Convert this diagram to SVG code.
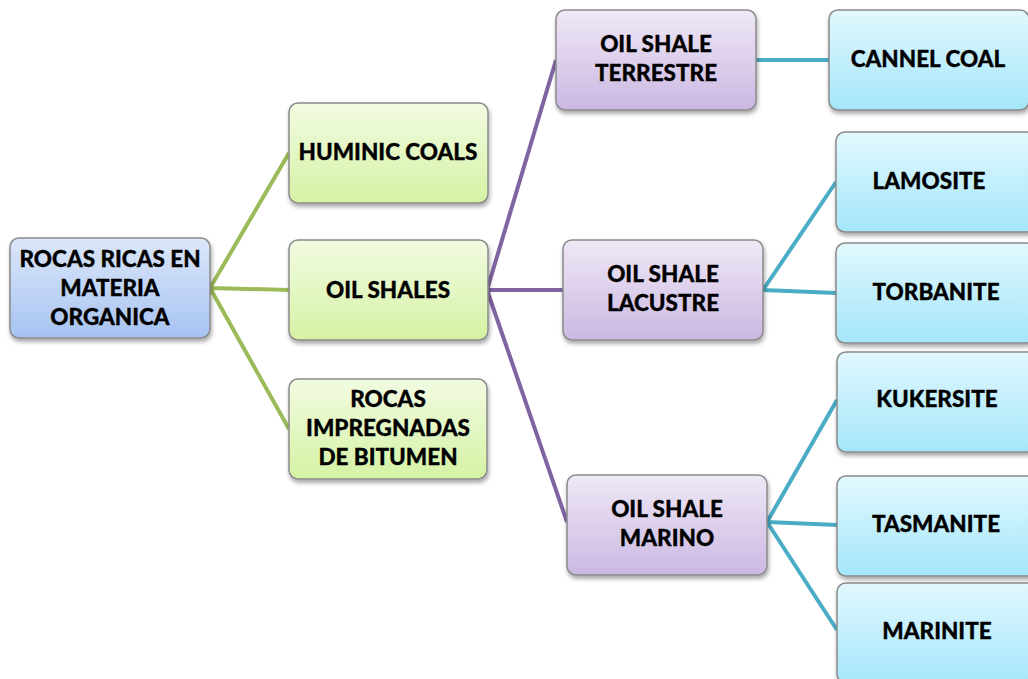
<svg xmlns="http://www.w3.org/2000/svg" width="1028" height="679" viewBox="0 0 1028 679">
<defs>
<linearGradient id="gBlue" x1="0" y1="0" x2="0" y2="1"><stop offset="0" stop-color="#dce7f9"/><stop offset="1" stop-color="#a7c3f2"/></linearGradient>
<linearGradient id="gGreen" x1="0" y1="0" x2="0" y2="1"><stop offset="0" stop-color="#f2fbe2"/><stop offset="1" stop-color="#d5f2a4"/></linearGradient>
<linearGradient id="gPurple" x1="0" y1="0" x2="0" y2="1"><stop offset="0" stop-color="#efe8f6"/><stop offset="1" stop-color="#cbb8e2"/></linearGradient>
<linearGradient id="gCyan" x1="0" y1="0" x2="0" y2="1"><stop offset="0" stop-color="#e2f8fe"/><stop offset="1" stop-color="#a4e6fa"/></linearGradient>
<filter id="sh" x="-10%" y="-10%" width="125%" height="130%"><feDropShadow dx="1" dy="3" stdDeviation="2" flood-color="#000" flood-opacity="0.35"/></filter>
</defs>
<style>
.n rect{stroke:#8a8a8a;stroke-width:1.5;filter:url(#sh)}
.n text{font-family:Lato,"Open Sans","Liberation Sans",sans-serif;font-weight:900;font-size:22.5px;fill:#000;stroke:#000;stroke-width:0.3;text-anchor:middle}
.g{stroke:#9bbb59;stroke-width:4;fill:none}
.p{stroke:#8064a2;stroke-width:4;fill:none}
.c{stroke:#4bacc6;stroke-width:4;fill:none}
</style>
<g id="connectors">
<path class="g" d="M210 288 L289 153 M210 288 L289 290 M210 288 L289 429"/>
<path class="p" d="M487 290 L556 60 M487 290 L563 290 M487 290 L567 522"/>
<path class="c" d="M756 60 L829 60 M763 290 L836 182 M763 290 L836 293 M767 522 L837 400 M767 522 L837 525 M767 522 L837 630"/>
</g>
<g id="root" class="n"><rect x="10" y="238" width="200" height="100" rx="9" fill="url(#gBlue)"/><text x="110" y="267">ROCAS RICAS EN</text><text x="110" y="296">MATERIA</text><text x="110" y="325">ORGANICA</text></g>
<g id="huminic" class="n"><rect x="289" y="103" width="199" height="100" rx="9" fill="url(#gGreen)"/><text x="388" y="160">HUMINIC COALS</text></g>
<g id="oilshales" class="n"><rect x="289" y="240" width="199" height="100" rx="9" fill="url(#gGreen)"/><text x="388" y="298">OIL SHALES</text></g>
<g id="rocasimp" class="n"><rect x="289" y="379" width="198" height="100" rx="9" fill="url(#gGreen)"/><text x="388" y="407">ROCAS</text><text x="388" y="436">IMPREGNADAS</text><text x="388" y="465">DE BITUMEN</text></g>
<g id="terrestre" class="n"><rect x="556" y="10" width="200" height="100" rx="9" fill="url(#gPurple)"/><text x="656" y="52">OIL SHALE</text><text x="656" y="81">TERRESTRE</text></g>
<g id="lacustre" class="n"><rect x="563" y="240" width="200" height="100" rx="9" fill="url(#gPurple)"/><text x="663" y="282">OIL SHALE</text><text x="663" y="311">LACUSTRE</text></g>
<g id="marino" class="n"><rect x="567" y="475" width="200" height="100" rx="9" fill="url(#gPurple)"/><text x="667" y="517">OIL SHALE</text><text x="667" y="546">MARINO</text></g>
<g id="cannel" class="n"><rect x="829" y="10" width="200" height="100" rx="9" fill="url(#gCyan)"/><text x="928" y="67">CANNEL COAL</text></g>
<g id="lamosite" class="n"><rect x="836" y="132" width="200" height="100" rx="9" fill="url(#gCyan)"/><text x="929" y="189">LAMOSITE</text></g>
<g id="torbanite" class="n"><rect x="836" y="243" width="200" height="100" rx="9" fill="url(#gCyan)"/><text x="936" y="300">TORBANITE</text></g>
<g id="kukersite" class="n"><rect x="837" y="352" width="200" height="100" rx="9" fill="url(#gCyan)"/><text x="937" y="407">KUKERSITE</text></g>
<g id="tasmanite" class="n"><rect x="837" y="476" width="200" height="100" rx="9" fill="url(#gCyan)"/><text x="936" y="532">TASMANITE</text></g>
<g id="marinite" class="n"><rect x="837" y="583" width="200" height="100" rx="9" fill="url(#gCyan)"/><text x="937" y="639">MARINITE</text></g>
</svg>
